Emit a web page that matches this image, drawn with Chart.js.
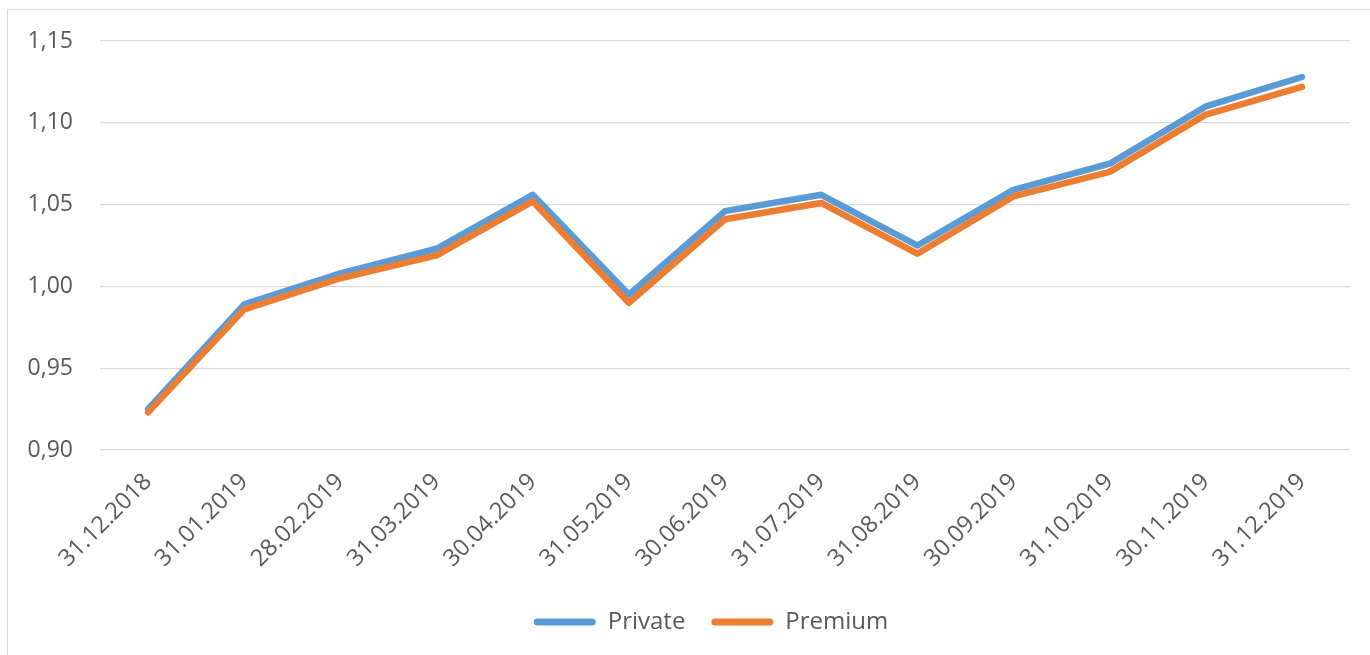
<!DOCTYPE html>
<html>
<head>
<meta charset="utf-8">
<script src="https://cdn.jsdelivr.net/npm/chart.js@4.4.1/dist/chart.umd.min.js"></script>
<style>
  html, body { margin: 0; padding: 0; background: #fff; overflow: hidden; }
  #wrap { position: relative; width: 1370px; height: 655px; overflow: hidden; }
  #frame { position: absolute; left: 7px; top: 9px; width: 1400px; height: 700px; border: 1.5px solid #d9d9d9; box-sizing: border-box; pointer-events: none; }
  canvas { position: absolute; left: 0; top: 0; }
</style>
</head>
<body>
<div id="wrap">
  <canvas id="c" width="1370" height="655"></canvas>
  <div id="frame"></div>
</div>
<script>
const categories = ["31.12.2018","31.01.2019","28.02.2019","31.03.2019","30.04.2019","31.05.2019","30.06.2019","31.07.2019","31.08.2019","30.09.2019","31.10.2019","30.11.2019","31.12.2019"];
const privateValues = [0.925, 0.989, 1.008, 1.023, 1.056, 0.995, 1.046, 1.056, 1.025, 1.059, 1.075, 1.110, 1.128];
const premiumValues = [0.923, 0.986, 1.005, 1.019, 1.052, 0.990, 1.041, 1.051, 1.020, 1.055, 1.070, 1.105, 1.122];
const yTicks = [0.90, 0.95, 1.00, 1.05, 1.10, 1.15];

const FONT = "'Open Sans', 'Liberation Sans', sans-serif";
const TEXT = '#595959';

const legendShift = {
  id: 'legendShift',
  afterLayout(chart) {
    if (chart.legend) { chart.legend.left += 36; chart.legend.right += 36; }
  }
};

new Chart(document.getElementById('c'), {
  type: 'line',
  data: {
    labels: categories,
    datasets: [
      { label: 'Private', data: privateValues, borderColor: '#5B9BD5', backgroundColor: '#5B9BD5', order: 1 },
      { label: 'Premium', data: premiumValues, borderColor: '#ED7D31', backgroundColor: '#ED7D31', order: 0 }
    ]
  },
  plugins: [legendShift],
  options: {
    responsive: false,
    animation: false,
    devicePixelRatio: 1,
    elements: {
      line: { borderWidth: 6.5, tension: 0, borderCapStyle: 'round', borderJoinStyle: 'round' },
      point: { radius: 0, hoverRadius: 0 }
    },
    layout: { padding: { left: 0, right: 20, top: 41, bottom: 11 } },
    scales: {
      x: {
        type: 'category',
        offset: true,
        grid: { display: false, drawTicks: false },
        border: { display: false },
        ticks: {
          color: TEXT, font: { family: FONT, size: 23.5 },
          maxRotation: 45, minRotation: 45, padding: 18, autoSkip: false
        },
        afterFit: (s) => { s.height = 134; }
      },
      y: {
        min: 0.90, max: 1.15,
        afterBuildTicks: (s) => { s.ticks = yTicks.map(v => ({ value: v })); },
        grid: { color: '#d9d9d9', lineWidth: 1.3, drawTicks: false },
        border: { display: false },
        ticks: {
          color: TEXT, font: { family: FONT, size: 23 }, padding: 27,
          callback: (v) => Number(v).toFixed(2).replace('.', ',')
        },
        afterFit: (s) => { s.width = 100; }
      }
    },
    plugins: {
      tooltip: { enabled: false },
      legend: {
        position: 'bottom',
        labels: {
          color: TEXT, font: { family: FONT, size: 24 },
          boxWidth: 62, boxHeight: 7, padding: 26,
          sort: (a, b) => a.datasetIndex - b.datasetIndex,
          generateLabels: (chart) => chart.data.datasets.map((d, i) => ({
            text: d.label, fillStyle: d.borderColor, strokeStyle: d.borderColor,
            lineWidth: 0, borderRadius: 3.5, datasetIndex: i, hidden: false, fontColor: TEXT
          }))
        }
      }
    }
  }
});
</script>
</body>
</html>
